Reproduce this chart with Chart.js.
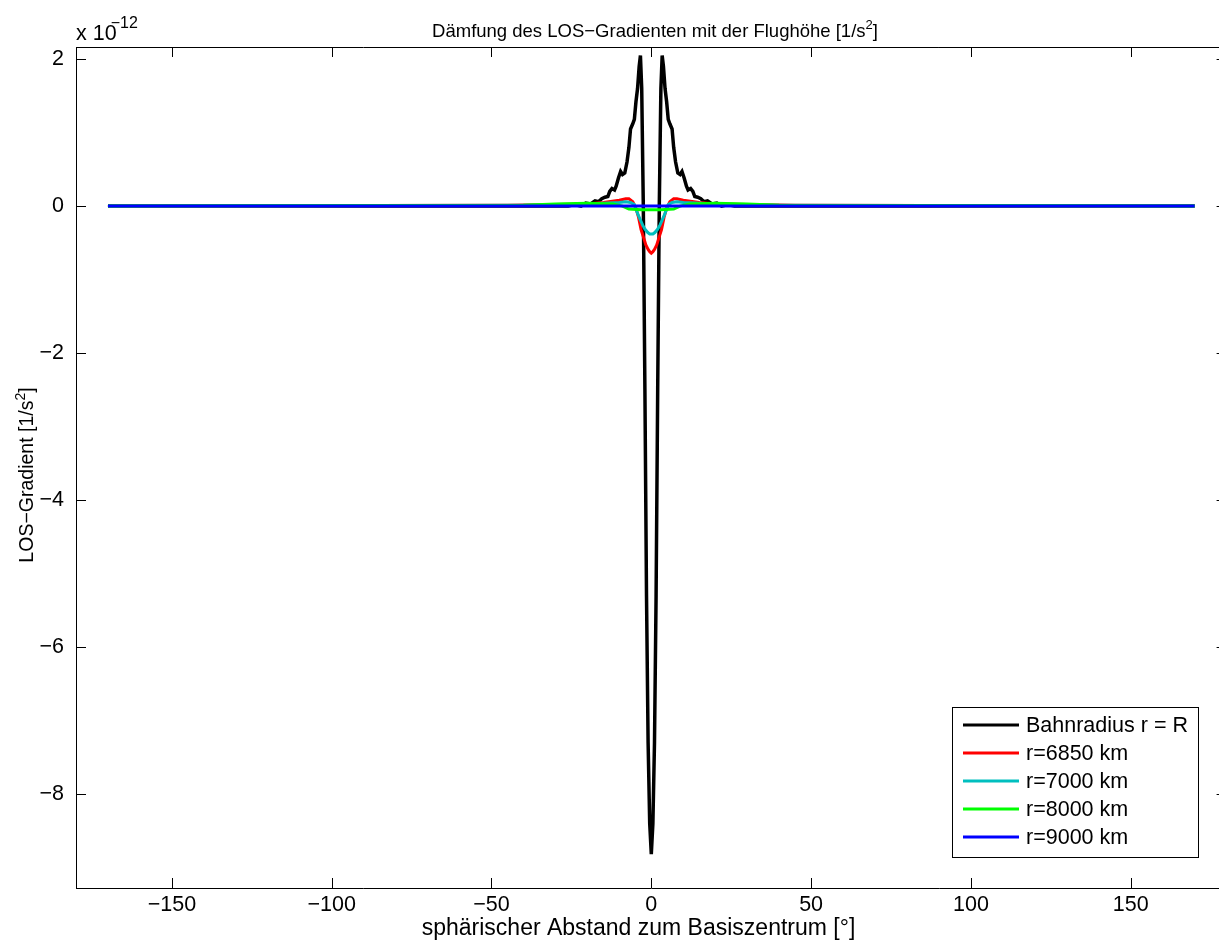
<!DOCTYPE html>
<html>
<head>
<meta charset="utf-8">
<script src="https://cdn.jsdelivr.net/npm/chart.js@4"></script>
<style>
  html, body { margin: 0; padding: 0; background: #fff; overflow: hidden; }
  #wrap { width: 1219px; height: 941px; overflow: hidden; position: relative; }
  #grafico { position: absolute; left: 0; top: 0; }
</style>
</head>
<body>
<div id="wrap"><canvas id="grafico" width="1240" height="941"></canvas></div>
<script>
// values in units of 1e-12 1/s^2
const xTicks = [-150, -100, -50, 0, 50, 100, 150];
const yTicks = [-8, -6, -4, -2, 0, 2];

const xBahn = [-170, -30, -26, -24, -22, -20.5, -19, -17.6, -16.5, -15.5, -14.5, -13.6, -13, -12.3, -11.5, -11, -10.3, -9.6, -9, -8.3, -7.6, -7, -6.5, -5.8, -5.3, -4.8, -4.3, -3.8, -3.4, -3, -2.5, -2, -1.5, -1, -0.5, 0,
  0.5, 1, 1.5, 2, 2.5, 3, 3.4, 3.8, 4.3, 4.8, 5.3, 5.8, 6.5, 7, 7.6, 8.3, 9, 9.6, 10.3, 11, 11.5, 12.3, 13, 13.6, 14.5, 15.5, 16.5, 17.6, 19, 20.5, 22, 24, 26, 30, 170];
const yBahn = [0, 0, 0, 0.02, 0, 0.04, 0.03, 0.07, 0.06, 0.1, 0.12, 0.13, 0.2, 0.24, 0.22, 0.27, 0.38, 0.47, 0.43, 0.45, 0.6, 0.8, 1.05, 1.12, 1.18, 1.42, 1.6, 1.9, 2.05, 1.6, 0, -2.5, -5.3, -7.3, -8.4, -8.82,
  -8.4, -7.3, -5.3, -2.5, 0, 1.6, 2.05, 1.9, 1.6, 1.42, 1.18, 1.12, 1.05, 0.8, 0.6, 0.45, 0.43, 0.47, 0.38, 0.27, 0.22, 0.24, 0.2, 0.13, 0.12, 0.1, 0.06, 0.07, 0.03, 0.04, 0, 0.02, 0, 0, 0];

const x6850 = [-170, -45, -30, -20, -15, -10, -8, -7, -5.8, -4.8, -4, -3.2, -2.4, -1.7, -1, -0.5, 0, 0.5, 1, 1.7, 2.4, 3.2, 4, 4.8, 5.8, 7, 8, 10, 15, 20, 30, 45, 170];
const y6850 = [0, 0.01, 0.02, 0.03, 0.05, 0.08, 0.1, 0.1, 0.06, -0.03, -0.15, -0.32, -0.43, -0.53, -0.59, -0.62, -0.64, -0.62, -0.59, -0.53, -0.43, -0.32, -0.15, -0.03, 0.06, 0.1, 0.1, 0.08, 0.05, 0.03, 0.02, 0.01, 0];

const x7000 = [-170, -40, -25, -15, -10, -8, -6.5, -5.3, -4.3, -3.5, -2.7, -1.9, -1.1, -0.5, 0, 0.5, 1.1, 1.9, 2.7, 3.5, 4.3, 5.3, 6.5, 8, 10, 15, 25, 40, 170];
const y7000 = [0, 0.01, 0.02, 0.04, 0.05, 0.06, 0.05, 0.02, -0.1, -0.18, -0.26, -0.32, -0.36, -0.38, -0.38, -0.38, -0.36, -0.32, -0.26, -0.18, -0.1, 0.02, 0.05, 0.06, 0.05, 0.04, 0.02, 0.01, 0];

const x8000 = [-170, -40, -30, -20, -12, -9, -7, -3, 0, 3, 7, 9, 12, 20, 30, 40, 170];
const y8000 = [0, 0.01, 0.03, 0.04, 0.03, 0, -0.04, -0.05, -0.05, -0.05, -0.04, 0, 0.03, 0.04, 0.03, 0.01, 0];

const x9000 = [-170, 170];
const y9000 = [0, 0];

const labels = ["Bahnradius r = R", "r=6850 km", "r=7000 km", "r=8000 km", "r=9000 km"];
const farben = ["#000000", "#ff0000", "#00bfbf", "#00ff00", "#0000ff"];
const reihenX = [xBahn, x6850, x7000, x8000, x9000];
const reihenY = [yBahn, y6850, y7000, y8000, y9000];

const FONT = "Liberation Sans, Arial, Helvetica, sans-serif";
const minus = v => String(v).replace("-", "\u2212");

const datasets = labels.map((label, i) => ({
  label: label,
  data: reihenX[i].map((x, k) => ({ x: x, y: reihenY[i][k] })),
  borderColor: farben[i],
  backgroundColor: farben[i],
  borderWidth: i === 0 ? 3.5 : 3,
  pointRadius: 0,
  tension: 0,
  fill: false,
  order: labels.length - i
}));

// text with a raised "2" before the closing bracket, centered at (cx, y)
function textMitHochzahl(ctx, vorne, hinten, cx, y, size, supSize) {
  ctx.font = supSize + "px " + FONT;
  const wSup = ctx.measureText("2").width;
  ctx.font = size + "px " + FONT;
  const w1 = ctx.measureText(vorne).width;
  const w3 = ctx.measureText(hinten).width;
  const x0 = cx - (w1 + wSup + w3) / 2;
  ctx.textAlign = "left";
  ctx.textBaseline = "alphabetic";
  ctx.fillText(vorne, x0, y);
  ctx.fillText(hinten, x0 + w1 + wSup, y);
  ctx.font = supSize + "px " + FONT;
  ctx.fillText("2", x0 + w1, y - size * 0.42);
}

// matlab style frame, inward ticks, title, labels, exponent and legend
const matlabPlugin = {
  id: "matlab",
  afterDraw(chart) {
    const ctx = chart.ctx;
    const a = chart.chartArea;
    const sx = chart.scales.x, sy = chart.scales.y;
    ctx.save();
    ctx.strokeStyle = "#000";
    ctx.lineWidth = 1;
    ctx.beginPath();
    ctx.moveTo(a.left, a.top + 0.5);
    ctx.lineTo(a.right, a.top + 0.5);
    ctx.moveTo(a.right - 0.5, a.top);
    ctx.lineTo(a.right - 0.5, a.bottom);
    const tl = 10;
    sx.ticks.forEach(t => {
      const p = Math.round(sx.getPixelForValue(t.value)) + 0.5;
      ctx.moveTo(p, a.bottom); ctx.lineTo(p, a.bottom - tl);
      ctx.moveTo(p, a.top); ctx.lineTo(p, a.top + tl);
    });
    sy.ticks.forEach(t => {
      const p = Math.round(sy.getPixelForValue(t.value)) + 0.5;
      ctx.moveTo(a.left, p); ctx.lineTo(a.left + tl, p);
      ctx.moveTo(a.right, p); ctx.lineTo(a.right - tl, p);
    });
    ctx.stroke();

    ctx.fillStyle = "#000";
    // title
    textMitHochzahl(ctx, "Dämfung des LOS\u2212Gradienten mit der Flughöhe [1/s", "]", 655, 37, 18.5, 13);

    // x label
    ctx.font = "23px " + FONT;
    ctx.textAlign = "center";
    ctx.textBaseline = "middle";
    ctx.fillText("sphärischer Abstand zum Basiszentrum [°]", 638.5, 929);

    // y label
    ctx.save();
    ctx.translate(33, 475);
    ctx.rotate(-Math.PI / 2);
    textMitHochzahl(ctx, "LOS\u2212Gradient [1/s", "]", 0, 0, 19.5, 14);
    ctx.restore();

    // exponent
    ctx.textAlign = "left";
    ctx.textBaseline = "alphabetic";
    ctx.font = "21.5px " + FONT;
    ctx.fillText("x 10", a.left, 40);
    const wx = ctx.measureText("x 10").width;
    ctx.font = "16px " + FONT;
    ctx.fillText("\u221212", a.left + wx - 6, 28);

    // legend
    const lx = 952, ly = 707, lw = 246, lh = 150;
    ctx.fillStyle = "#fff";
    ctx.fillRect(lx, ly, lw, lh);
    ctx.strokeStyle = "#000";
    ctx.lineWidth = 1;
    ctx.strokeRect(lx + 0.5, ly + 0.5, lw, lh);
    ctx.font = "21.5px " + FONT;
    ctx.textBaseline = "middle";
    chart.data.datasets.forEach((d, i) => {
      const y = 725 + i * 28;
      ctx.strokeStyle = d.borderColor;
      ctx.lineWidth = 3;
      ctx.beginPath();
      ctx.moveTo(963, y);
      ctx.lineTo(1019, y);
      ctx.stroke();
      ctx.fillStyle = "#000";
      ctx.fillText(d.label, 1026, y + 1);
    });
    ctx.restore();
  }
};

new Chart(document.getElementById("grafico").getContext("2d"), {
  type: "line",
  data: { datasets: datasets },
  options: {
    responsive: false,
    animation: false,
    layout: { padding: { top: 47, right: 13.4, left: 0, bottom: 0 } },
    plugins: { legend: { display: false }, tooltip: { enabled: false }, title: { display: false } },
    scales: {
      x: {
        type: "linear",
        min: -180, max: 180,
        afterBuildTicks: s => { s.ticks = xTicks.map(v => ({ value: v })); },
        afterFit: s => { s.height = 53; },
        grid: { display: false, drawTicks: false },
        border: { display: true, color: "#000", width: 1 },
        ticks: { color: "#000", font: { size: 21.5, family: FONT }, padding: 4, maxRotation: 0, callback: v => minus(v) },
        title: { display: false }
      },
      y: {
        type: "linear",
        min: -9.28, max: 2.165,
        afterBuildTicks: s => { s.ticks = yTicks.map(v => ({ value: v })); },
        afterFit: s => { s.width = 76; },
        grid: { display: false, drawTicks: false },
        border: { display: true, color: "#000", width: 1 },
        ticks: { color: "#000", font: { size: 21.5, family: FONT }, padding: 12, callback: v => minus(v) },
        title: { display: false }
      }
    }
  },
  plugins: [matlabPlugin]
});
</script>
</body>
</html>
